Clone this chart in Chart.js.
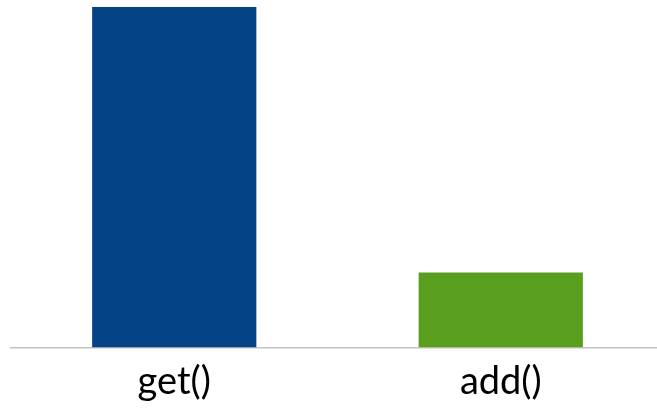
<!DOCTYPE html>
<html>
<head>
<meta charset="utf-8">
<script src="https://cdn.jsdelivr.net/npm/chart.js@4"></script>
<style>
  html, body { margin: 0; padding: 0; background: #fff; overflow: hidden; }
  #wrap { width: 664px; height: 409px; }
</style>
</head>
<body>
<div id="wrap"><canvas id="myChart"></canvas></div>
<script>
var categories = ['get()', 'add()'];
var values = [100, 22];
var barColors = ['#024486', '#5a9e1e'];

var ctx = document.getElementById('myChart');
var chart = new Chart(ctx, {
  type: 'bar',
  data: {
    labels: categories,
    datasets: [{
      data: values,
      backgroundColor: barColors,
      barPercentage: 0.503,
      categoryPercentage: 1
    }]
  },
  options: {
    responsive: true,
    maintainAspectRatio: false,
    animation: false,
    layout: { padding: { top: 7, left: 11, right: 0, bottom: 0 } },
    plugins: { legend: { display: false }, tooltip: { enabled: false } },
    scales: {
      x: {
        grid: { display: false },
        border: { color: '#c4c4c4', width: 1.5 },
        ticks: { color: '#000', font: { family: 'Lato', size: 38 }, padding: 4 }
      },
      y: { display: false, min: 0, max: 100 }
    }
  }
});
</script>
</body>
</html>
